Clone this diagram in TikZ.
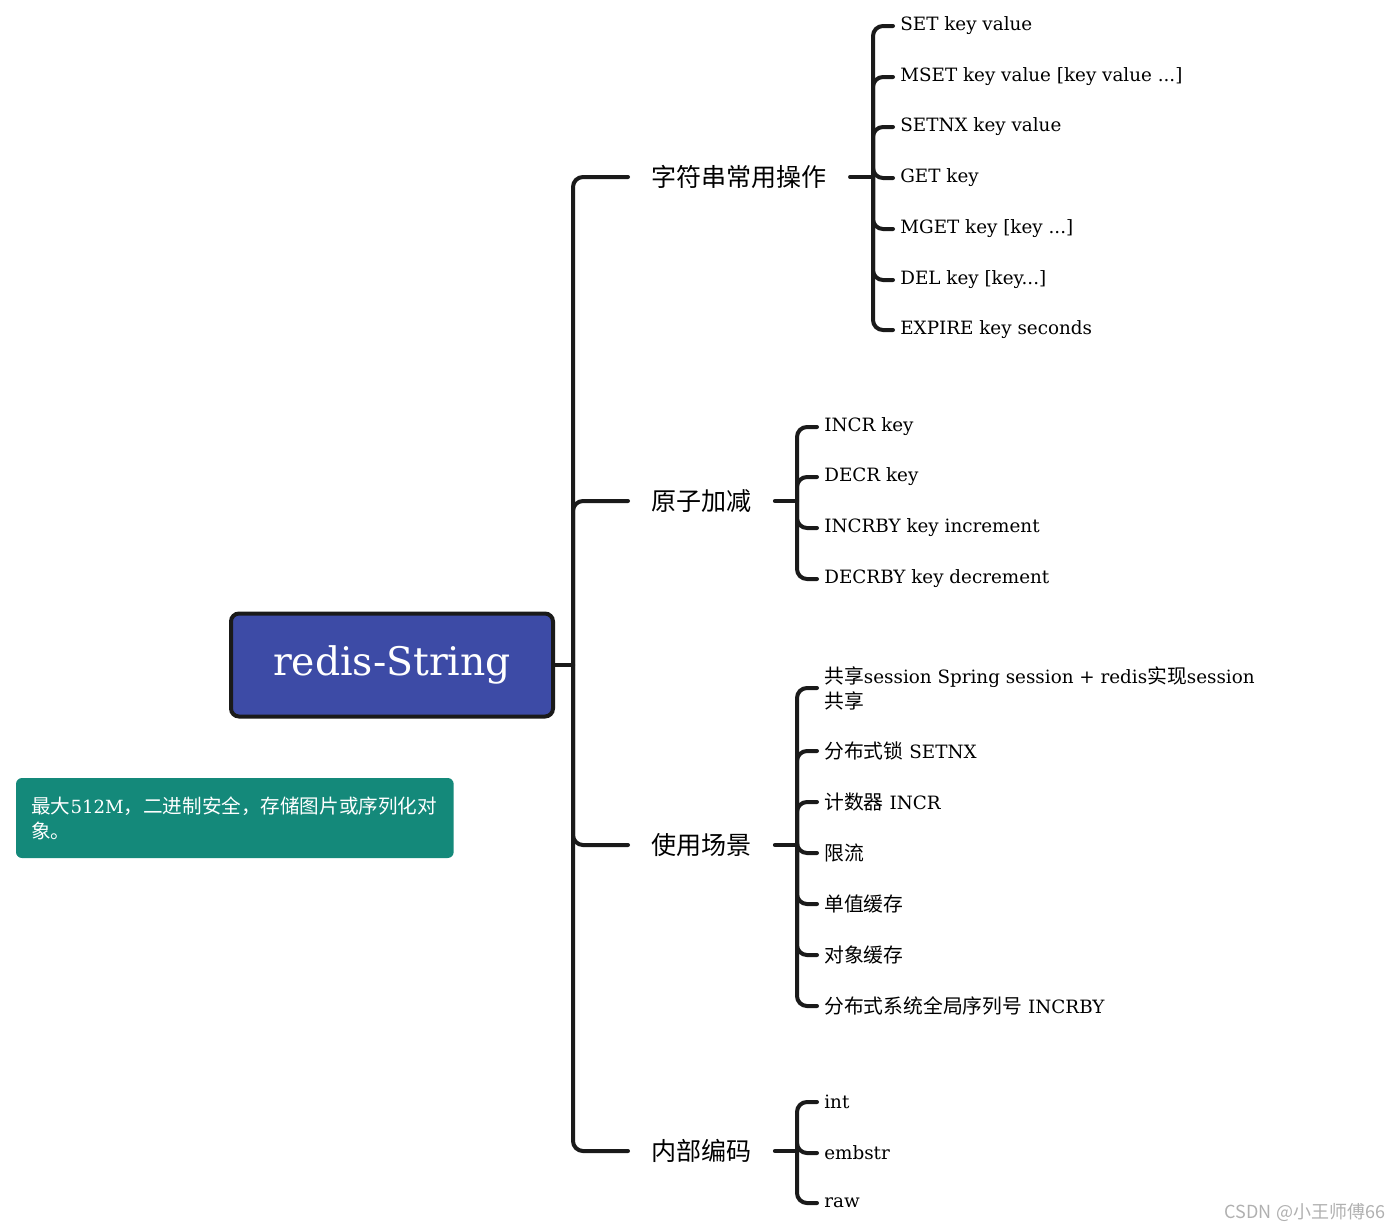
\documentclass[tikz,border=0pt]{standalone}
\usepackage{fontspec}
\setmainfont{DejaVu Serif}
\newfontfamily\cjk[Scale=1.08]{Noto Sans CJK SC}
\newcommand\zh[1]{{\cjk #1}}
\usetikzlibrary{positioning, calc}
\definecolor{rootblue}{HTML}{3D4BA6}
\definecolor{noteteal}{HTML}{14897A}
\definecolor{linkgrey}{HTML}{1A1A1A}
\definecolor{wmgrey}{HTML}{B0B0B0}
\tikzset{
  every picture/.style={line width=3pt},
  link/.style={draw=linkgrey, line width=3pt, rounded corners=7.5pt, line cap=round},
  rootbox/.style={draw=linkgrey, fill=rootblue, line width=3pt, rounded corners=6pt, text=white,
    font=\fontsize{29.5}{34}\selectfont, minimum width=241.5pt, minimum height=77.25pt},
  branch/.style={anchor=west, font=\cjk\fontsize{17.4}{21}\selectfont, inner xsep=16pt, inner ysep=0pt},
  leaf/.style={anchor=west, align=left, font=\fontsize{13.75}{18.75}\selectfont, inner xsep=4pt, inner ysep=0pt},
  note/.style={anchor=west, fill=noteteal, rounded corners=4.5pt, text=white, align=left,
    text width=305.25pt, inner xsep=11.5pt, minimum height=60pt, font=\fontsize{13.6}{18.75}\selectfont},
  wmark/.style={anchor=east, text=wmgrey, font=\cjk\fontsize{12.5}{15}\selectfont, inner sep=0pt},
}
\begin{document}
\begin{tikzpicture}[x=0.75pt, y=-0.75pt]
  \useasboundingbox (0,0) rectangle (1400,1229);
  \node[rootbox] (root) at (392,665) {redis-String};
  \coordinate (t0) at (573,665);
  \draw[link] (root.east) -- (t0);
  \foreach \n/\y/\jx/\txt in {b1/177/873/字符串常用操作, b2/501/797/原子加减, b3/845/797/使用场景, b4/1151/797/内部编码} {
    \node[branch] (\n) at (628,\y) {\txt};
    \coordinate (j\n) at (\jx,\y);
    \draw[link] (t0) |- (\n.west);
    \draw[link] (\n.east) -- (j\n);
  }
  \foreach \y/\txt [count=\i] in {26/SET key value, 77/{MSET key value [key value ...]}, 127/SETNX key value, 178/GET key, 229/{MGET key [key ...]}, 280/{DEL key [key...]}, 330/EXPIRE key seconds} {
    \node[leaf] (op\i) at (893,\y) {\txt};
    \draw[link] (jb1) |- (op\i.west);
  }
  \foreach \y/\txt [count=\i] in {427/INCR key, 477/DECR key, 528/INCRBY key increment, 579/DECRBY key decrement} {
    \node[leaf] (num\i) at (817,\y) {\txt};
    \draw[link] (jb2) |- (num\i.west);
  }
  \foreach \y/\txt [count=\i] in {688/{\zh{共享}session Spring session + redis\zh{实现}session\\\zh{共享}}, 751/{\zh{分布式锁} SETNX}, 802/{\zh{计数器} INCR}, 853/{\zh{限流}}, 904/{\zh{单值缓存}}, 955/{\zh{对象缓存}}, 1006/{\zh{分布式系统全局序列号} INCRBY}} {
    \node[leaf] (use\i) at (817,\y) {\txt};
    \draw[link] (jb3) |- (use\i.west);
  }
  \foreach \y/\txt [count=\i] in {1102/int, 1153/embstr, 1203/raw} {
    \node[leaf] (enc\i) at (817,\y) {\txt};
    \draw[link] (jb4) |- (enc\i.west);
  }
  \node[note] (memo) at (14,818) {\zh{最大}512M\zh{，二进制安全，存储图片或序列化对}\\\zh{象。}};
  \node[wmark] (wm) at (1387,1212) {CSDN @小王师傅66};
\end{tikzpicture}
\end{document}
